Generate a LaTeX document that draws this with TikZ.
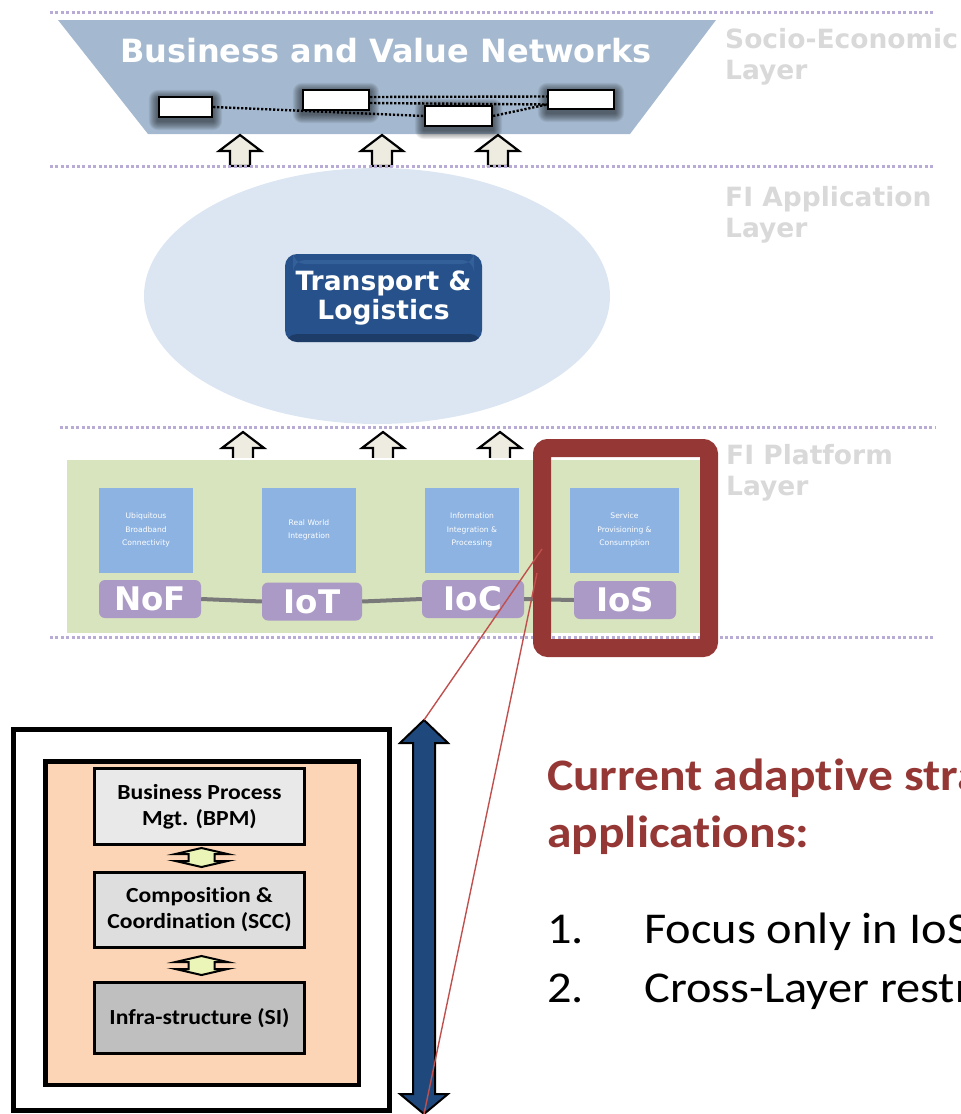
\documentclass[tikz,border=0pt]{standalone}
\usepackage{fontspec}
\setmainfont{Carlito}[FakeStretch=1.1, Ligatures=NoCommon]
\newfontfamily\vfont{DejaVu Sans}
\usetikzlibrary{calc,backgrounds}

\definecolor{sepcol}{HTML}{B8ACD6}
\definecolor{trapcol}{HTML}{A4B9CF}
\definecolor{ellcol}{HTML}{DCE6F2}
\definecolor{tlcol}{HTML}{27518A}
\definecolor{tltop}{HTML}{3D6BA6}
\definecolor{greencol}{HTML}{D7E4BD}
\definecolor{sqcol}{HTML}{8DB3E2}
\definecolor{purpcol}{HTML}{AB9AC5}
\definecolor{redcol}{HTML}{953735}
\definecolor{thinred}{HTML}{C0504D}
\definecolor{bigarr}{HTML}{1F497D}
\definecolor{peach}{HTML}{FBD5B5}
\definecolor{cream}{HTML}{EEECE1}
\definecolor{lime}{HTML}{EBF5B8}
\definecolor{lblgray}{HTML}{D9D9D9}
\definecolor{boxa}{HTML}{E9E9E9}
\definecolor{boxb}{HTML}{DEDEDE}
\definecolor{boxc}{HTML}{BFBFBF}

\tikzset{
  layersep/.style={draw=sepcol, line width=3pt, dash pattern=on 3pt off 2.4pt},
  layerlbl/.style={font=\vfont\bfseries\fontsize{26.5}{31}\selectfont, text=lblgray, anchor=base west, inner sep=0pt},
  netbox/.style={draw=black, line width=2.2pt, fill=white, inner sep=0pt},
  netline/.style={draw=black, line width=2.4pt, dash pattern=on 2.2pt off 1.8pt},
  uparr/.pic={\draw[fill=cream, line width=2.2pt, line join=miter]
      (0,0) -- (21,16) -- (10,16) -- (10,31) -- (-10,31) -- (-10,16) -- (-21,16) -- cycle;},
  minidbl/.pic={\draw[fill=lime, line width=2pt, line join=miter]
      (0,-9.5) -- (26,-3.5) -- (13,-3.5) -- (13,3.5) -- (26,3.5) -- (0,9.5)
      -- (-26,3.5) -- (-13,3.5) -- (-13,-3.5) -- (-26,-3.5) -- cycle;},
  sqbox/.style={fill=sqcol, minimum height=85pt, inner sep=0pt, text=white, align=center,
    font=\vfont\fontsize{7.6}{13.5}\selectfont},
  fibox/.style={fill=purpcol, rounded corners=6pt, minimum width=102pt, minimum height=38pt,
    inner sep=0pt, text=white, font=\vfont\bfseries\fontsize{32.5}{32}\selectfont},
  svcbox/.style={draw=black, line width=3pt, minimum width=210pt, inner sep=0pt, align=center,
    font=\bfseries\fontsize{21.5}{26}\selectfont},
  remark/.style={anchor=base west, inner sep=0pt, font=\fontsize{44}{59}\selectfont},
}

\begin{document}
\begin{tikzpicture}[x=1pt, y=-1pt]
\useasboundingbox (0,0) rectangle (961,1114);

% ---------- socio-economic layer ----------
\node[text=white, font=\vfont\bfseries\fontsize{32}{32}\selectfont, anchor=base] (bvn) at (386,62) {Business and Value Networks};

\node[netbox, minimum width=53pt, minimum height=20pt] (n1) at (185.5,107) {};
\node[netbox, minimum width=66pt, minimum height=20pt] (n2) at (336,100) {};
\node[netbox, minimum width=67pt, minimum height=20pt] (n3) at (458.5,116) {};
\node[netbox, minimum width=66pt, minimum height=19pt] (n4) at (581,99.5) {};
\draw[netline] (n1.east) -- (n3.west);
\draw[netline] ([yshift=3pt]n2.east) -- ([yshift=3pt]n4.west);
\draw[netline] ([yshift=-3pt]n2.east) -- ([yshift=-5pt]n4.west);
\draw[netline] (n3.east) -- ([yshift=-5pt]n4.west);

\begin{pgfonlayer}{background}
  \fill[trapcol] (58,20) -- (716,20) -- (630,134) -- (148,134) -- cycle;
  % soft shadows under the network boxes
  \foreach \n in {n1,n2,n3,n4}
    \foreach \d in {1,...,9}
      \fill[black, opacity=.065, rounded corners=\d pt]
        ($(\n.north west)+(-\d,-\d+3)$) rectangle ($(\n.south east)+(\d,\d+3)$);
\end{pgfonlayer}

\node[layerlbl] (se1) at (725,48) {Socio-Economic};
\node[layerlbl] (se2) at (725,79) {Layer};

\pic at (240,135) {uparr};
\pic at (382,135) {uparr};
\pic at (498,135) {uparr};

% ---------- application layer ----------
\fill[ellcol] (377,296) ellipse [x radius=233, y radius=128];
\node[fill=tlcol, rounded corners=12pt, minimum width=197pt, minimum height=88pt, inner sep=0pt,
  text=white, align=center, font=\vfont\bfseries\fontsize{26.5}{29}\selectfont,
  path picture={\fill[tltop, opacity=.6] ([xshift=8pt,yshift=-6pt]path picture bounding box.north west)
     rectangle ([xshift=-8pt,yshift=-10pt]path picture bounding box.north east);
     \fill[black, opacity=.25] ([yshift=8pt]path picture bounding box.south west)
     rectangle (path picture bounding box.south east);}]
  (tl) at (383.5,298) {Transport \&\\Logistics};

\node[layerlbl] (ap1) at (725,206) {FI Application};
\node[layerlbl] (ap2) at (725,237) {Layer};

\pic at (243,432) {uparr};
\pic at (383,432) {uparr};
\pic at (500,432) {uparr};

% ---------- platform layer ----------
\draw[fill=greencol, draw=white, line width=1.5pt] (66,459) rectangle (701,634);

\node[sqbox, minimum width=94pt] (sq1) at (146,530) {Ubiquitous\\Broadband\\Connectivity};
\node[sqbox, minimum width=94pt] (sq2) at (309,530) {Real World\\Integration};
\node[sqbox, minimum width=94pt] (sq3) at (472,530) {Information\\Integration \&\\Processing};
\node[sqbox, minimum width=109pt] (sq4) at (624.5,530) {Service\\Provisioning \&\\Consumption};

\node[fibox] (nof) at (150,599) {NoF};
\node[fibox, minimum width=100pt] (iot) at (312,601.5) {IoT};
\node[fibox] (ioc) at (473,599) {IoC};
\node[fibox] (ios) at (625,600) {IoS};
\begin{scope}[draw=gray!95!black, line width=4pt]
  \draw (nof.east) -- (iot.west);
  \draw (iot.east) -- (ioc.west);
  \draw (ioc.east) -- (ios.west);
\end{scope}

\node[layerlbl] (pl1) at (726,464) {FI Platform};
\node[layerlbl] (pl2) at (726,495) {Layer};

% ---------- layer separators ----------
\draw[layersep] (50,12) -- (935,12);
\draw[layersep] (50,166) -- (935,166);
\draw[layersep] (60,427) -- (935,427);
\draw[layersep] (50,637) -- (935,637);

% highlight of the service layer
\draw[redcol, line width=18pt, rounded corners=6pt] (542,448) rectangle (709,648);

% ---------- service stack ----------
\draw[line width=5pt, fill=white] (13.5,729.5) rectangle (389.5,1110.5);
\draw[line width=4.7pt, fill=peach] (45.5,761.5) rectangle (359,1085);

\node[svcbox, fill=boxa, minimum height=76pt] (bpm) at (199.5,806.5) {Business Process\\Mgt. (BPM)};
\node[svcbox, fill=boxb, minimum height=75pt] (scc) at (199.5,910) {Composition \&\\Coordination (SCC)};
\node[svcbox, fill=boxc, minimum height=71pt] (si) at (199.5,1018) {Infra-structure (SI)};
\pic at (201.5,857.5) {minidbl};
\pic at (201.5,965.5) {minidbl};

% vertical scope arrow
\coordinate (bat) at (424,720);
\coordinate (bab) at (424,1114);
\draw[fill=bigarr, line width=2pt, line join=miter]
  (bat) -- (448,743) -- (435,743) -- (435,1094) -- (448,1094) -- (bab)
  -- (400,1094) -- (413,1094) -- (413,743) -- (400,743) -- cycle;

% zoom lines from the IoS highlight
\coordinate (za) at (542,549);
\coordinate (zb) at (537,573);
\draw[thinred, line width=1.4pt] (za) -- (bat);
\draw[thinred, line width=1.4pt] (zb) -- (bab);

% ---------- remarks ----------
\node[remark, text=redcol, font=\bfseries\fontsize{45}{57}\selectfont] (h1) at (547,790) {Current adaptive strategies};
\node[remark, text=redcol, font=\bfseries\fontsize{45}{57}\selectfont] (h2) at (547,847) {applications:};
\node[remark] (i1n) at (547,943) {1.};
\node[remark] (i1t) at (644,943) {Focus only in IoS};
\node[remark] (i2n) at (547,1002) {2.};
\node[remark] (i2t) at (644,1002) {Cross-Layer restrictions};
\end{tikzpicture}
\end{document}
